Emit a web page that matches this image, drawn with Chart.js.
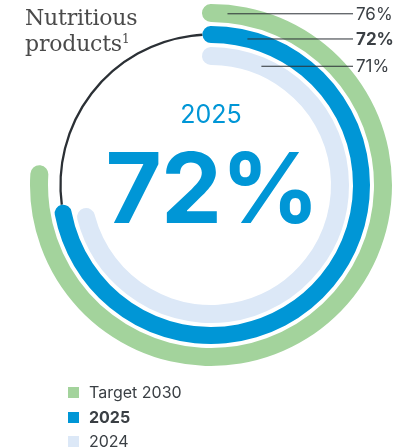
<!DOCTYPE html>
<html>
<head>
<meta charset="utf-8">
<script src="https://cdn.jsdelivr.net/npm/chart.js@4"></script>
<style>
  html, body { margin: 0; padding: 0; background: #fff; }
  #wrap { position: relative; width: 414px; height: 448px; overflow: hidden; }
  #scaleChart { position: absolute; left: 0; top: 0; }
  .title {
    position: absolute; left: 25px; top: 5px;
    font-family: "DejaVu Serif", serif; font-size: 22px; line-height: 26px;
    color: #4a4a4a; letter-spacing: -0.2px;
  }
  .title sup { font-size: 12px; vertical-align: 8px; line-height: 0; }
  .legend { position: absolute; left: 68px; top: 380px; font-family: Inter, sans-serif; font-size: 16px; color: #3a3f44; }
  .legend div { height: 24.5px; line-height: 24px; position: relative; padding-left: 21px; }
  .legend span { position: absolute; left: 0; top: 7px; width: 11px; height: 11px; }
</style>
</head>
<body>
<div id="wrap">
  <canvas id="scaleChart" width="414" height="448"></canvas>
  <div class="title">Nutritious<br>products<sup>1</sup></div>
  <div class="legend" id="legend"></div>
</div>
<script>
// series, outer ring first
const seriesNames = ['Target 2030', '2025', '2024'];
const seriesValues = [76, 72, 71];
const valueLabels = ['76%', '72%', '71%'];
const centerYear = '2025';
const centerValue = '72%';

const colors = ['#a3d39c', '#0096d6', '#dce8f7'];
const ringWeights = [18, 17, 18];
const gapWeights = [4, 4];
// half ring thickness / mid radius, so the rounded ends overhang like a round cap
const capDeg = [3.0, 3.25, 4.0];
// where each leader line leaves its ring (degrees from the top, clockwise)
const leaderDeg = [5.5, 14, 23];

function ringDataset(i) {
  let v = seriesValues[i];
  return {
    label: seriesNames[i],
    data: [v, 100 - v],
    backgroundColor: [colors[i], 'rgba(0,0,0,0)'],
    borderWidth: 0,
    borderRadius: [9, 0],
    weight: ringWeights[i],
    rotation: -capDeg[i],
    circumference: 360 + 2 * capDeg[i] * 100 / v
  };
}

function gapDataset(w) {
  return { data: [1], backgroundColor: ['rgba(0,0,0,0)'], borderWidth: 0, weight: w };
}

const ringsPlugin = {
  id: 'rings',
  beforeDatasetsDraw(chart) {
    // thin dark track for the rest of the 2025 ring
    let ctx = chart.ctx;
    let arc = chart.getDatasetMeta(2).data[0];
    let r = (arc.innerRadius + arc.outerRadius) / 2;
    ctx.save();
    ctx.strokeStyle = '#2b3035';
    ctx.lineWidth = 2.3;
    ctx.beginPath();
    ctx.arc(arc.x, arc.y, r, arc.endAngle, arc.startAngle + Math.PI * 2);
    ctx.stroke();
    ctx.restore();
  },
  afterDatasetsDraw(chart) {
    let ctx = chart.ctx;
    ctx.save();
    [0, 2, 4].forEach((dsIndex, i) => {
      let arc = chart.getDatasetMeta(dsIndex).data[0];
      let r = (arc.innerRadius + arc.outerRadius) / 2;
      let a = (leaderDeg[i] - 90) * Math.PI / 180;
      let x0 = arc.x + r * Math.cos(a);
      let y0 = arc.y + r * Math.sin(a);
      ctx.strokeStyle = '#2b3035';
      ctx.lineWidth = 1;
      ctx.beginPath();
      ctx.moveTo(x0, y0);
      ctx.lineTo(353, y0);
      ctx.stroke();
      ctx.fillStyle = '#3a3f44';
      ctx.font = (i === 1 ? 'bold ' : '') + '17px Inter, sans-serif';
      ctx.textBaseline = 'middle';
      ctx.textAlign = 'left';
      ctx.fillText(valueLabels[i], 356, y0 + 1);
    });
    // centre text
    let c = chart.getDatasetMeta(0).data[0];
    ctx.fillStyle = '#0096d6';
    ctx.textAlign = 'center';
    ctx.textBaseline = 'alphabetic';
    ctx.font = '25px Inter, sans-serif';
    ctx.fillText(centerYear, c.x, c.y - 62);
    ctx.font = 'bold 97px Inter, sans-serif';
    ctx.letterSpacing = '-1px';
    ctx.fillText(centerValue, c.x + 1, c.y + 38);
    ctx.restore();
  }
};

function setupChart() {
  let ctx = document.getElementById('scaleChart');
  let datasets = [
    ringDataset(0), gapDataset(gapWeights[0]),
    ringDataset(1), gapDataset(gapWeights[1]),
    ringDataset(2)
  ];
  return new Chart(ctx, {
    type: 'doughnut',
    data: { labels: ['value', 'rest'], datasets: datasets },
    options: {
      responsive: false,
      animation: { duration: 0 },
      events: [],
      cutout: '66.3%',
      layout: { padding: { left: 30, top: 4, right: 22, bottom: 82 } },
      plugins: { legend: { display: false }, tooltip: { enabled: false } }
    },
    plugins: [ringsPlugin]
  });
}

function setupLegend() {
  let box = document.getElementById('legend');
  seriesNames.forEach((name, i) => {
    let row = document.createElement('div');
    if (i === 1) row.style.fontWeight = 'bold';
    row.innerHTML = '<span style="background:' + colors[i] + '"></span>' + name;
    box.appendChild(row);
  });
}

setupLegend();
setupChart();
</script>
</body>
</html>
